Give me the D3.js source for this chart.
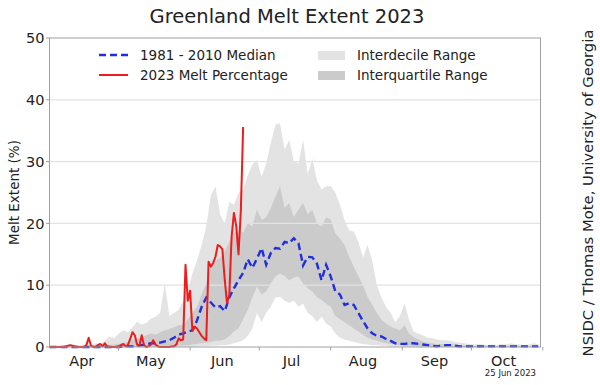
<!DOCTYPE html>
<meta charset="utf-8">
<style>
body { margin: 0; background: #fff; }
text { font-family: "DejaVu Sans", sans-serif; fill: #222; }
</style>
<svg width="600" height="385"></svg>
<script src="https://d3js.org/d3.v7.min.js"></script>
<script>

// tick labels
var months = ["Apr", "May", "Jun", "Jul", "Aug", "Sep", "Oct"];
var yTicks = [0, 10, 20, 30, 40, 50];

// 2023 daily melt percentage, starting 1 Apr 2023
var melt2023 = [
  0, 0, 0, 0, 0, 0, 0, 0.1, 0.2, 0.3,
  0.2, 0.1, 0, 0, 0, 0, 0.3, 1.5, 0.2, 0,
  0, 0.3, 0.5, 0.1, 0.6, 0.1, 0, 0, 0, 0,
  0.1, 0.3, 0.5, 0.1, 0.3, 1.3, 2.4, 1.9, 0.4, 0.2,
  1.9, 0.3, 0, 0.1, 0.4, 1.1, 0.4, 0.1, 0, 0,
  0, 0, 0, 0.1, 0.1, 0.4, 1.4, 1.1, 1.2, 13.3,
  7.5, 9.1, 2.6, 3.3, 3.0, 2.4, 1.8, 1.4, 1.1, 13.8,
  13.0, 13.6, 14.6, 16.5, 16.3, 15.8, 11.0, 7.1, 8.4, 17.8,
  21.7, 19.6, 15.0, 22.0, 35.6
];

// climatology 1981-2010, every second day from 1 Apr
var median = [
  0, 0, 0, 0, 0, 0, 0, 0, 0, 0,
  0, 0, 0, 0, 0, 0, 0.1, 0.1, 0.1, 0.2,
  0.3, 0.4, 0.6, 0.6, 0.7, 0.9, 1.1, 1.5, 2.0, 2.2,
  2.5, 2.7, 4.3, 6.5, 8.0, 7.2, 6.4, 6.6, 5.8, 8.0,
  9.5, 10.8, 12.0, 14.2, 12.8, 14.3, 16.0, 13.3, 15.2, 16.0,
  15.9, 17.0, 16.8, 17.6, 16.8, 13.2, 14.6, 14.5, 13.5, 10.8,
  13.3, 11.4, 9.0, 8.5, 6.8, 7.1, 6.8, 5.5, 4.2, 3.0,
  2.2, 1.8, 1.7, 1.3, 1.0, 0.6, 0.5, 0.5, 0.6, 0.6,
  0.5, 0.4, 0.3, 0.2, 0.1, 0.2, 0.3, 0.3, 0.2, 0.1,
  0.1, 0.1, 0.1, 0.1, 0.1, 0.1, 0.1, 0.1, 0.1, 0.1,
  0.1, 0.1, 0.1, 0.1, 0.1, 0.1, 0.1
];
var iqrLow = [
  0, 0, 0, 0, 0, 0, 0, 0, 0, 0,
  0, 0, 0, 0, 0, 0, 0, 0, 0, 0,
  0, 0, 0, 0, 0, 0.1, 0.1, 0.2, 0.2, 0.3,
  0.3, 0.4, 0.5, 0.6, 0.7, 0.8, 1.0, 1.0, 1.2, 1.8,
  2.5, 3.0, 4.5, 6.0, 8.0, 9.8, 8.5, 9.0, 10.3, 11.4,
  11.9, 11.5, 10.8, 11.2, 11.4, 10.3, 9.5, 9.0, 8.1, 7.6,
  7.0, 6.5, 5.0, 4.5, 4.0, 3.5, 3.0, 2.5, 2.0, 1.5,
  1.2, 1.0, 0.8, 0.6, 0.5, 0.4, 0.3, 0.2, 0.2, 0.2,
  0.1, 0.1, 0, 0, 0, 0, 0, 0, 0, 0,
  0, 0, 0, 0, 0, 0, 0, 0, 0, 0,
  0, 0, 0, 0, 0, 0, 0
];
var iqrHigh = [
  0, 0, 0, 0, 0, 0, 0, 0, 0, 0,
  0.1, 0.1, 0.2, 0.3, 0.4, 0.5, 0.7, 0.8, 1.2, 1.4,
  1.5, 1.9, 2.2, 2.0, 2.4, 2.7, 2.9, 3.2, 3.5, 3.6,
  4.5, 5.5, 6.5, 8.5, 10.3, 13.5, 14.0, 14.4, 15.5, 17.0,
  18.4, 18.9, 18.5, 20.0, 19.5, 22.2, 20.6, 21.0, 22.5, 24.3,
  26.0, 22.5, 23.3, 21.0, 22.2, 23.3, 21.5, 22.2, 20.0, 19.5,
  21.0, 20.6, 18.4, 17.5, 16.5, 14.6, 13.0, 11.5, 10.0, 8.1,
  6.8, 5.5, 4.4, 3.8, 3.3, 3.0, 2.7, 3.5, 2.2, 1.6,
  1.2, 0.9, 0.7, 0.6, 0.5, 0.5, 0.5, 0.4, 0.4, 0.3,
  0.3, 0.3, 0.2, 0.2, 0.2, 0.2, 0.2, 0.2, 0.2, 0.2,
  0.2, 0.2, 0.2, 0.1, 0.1, 0.1, 0.1
];
var idrLow = [
  0, 0, 0, 0, 0, 0, 0, 0, 0, 0,
  0, 0, 0, 0, 0, 0, 0, 0, 0, 0,
  0, 0, 0, 0, 0, 0, 0, 0, 0, 0,
  0, 0, 0.1, 0.1, 0.1, 0.2, 0.2, 0.3, 0.3, 0.4,
  0.6, 0.8, 1.1, 1.8, 3.0, 5.5, 4.0, 5.5, 6.5, 8.0,
  8.1, 7.5, 7.1, 7.5, 6.5, 7.0, 5.5, 5.0, 4.0, 4.9,
  3.8, 3.3, 2.2, 1.5, 1.2, 1.0, 0.8, 0.6, 0.5, 0.4,
  0.3, 0.3, 0.2, 0.2, 0.1, 0.1, 0.1, 0, 0, 0,
  0, 0, 0, 0, 0, 0, 0, 0, 0, 0,
  0, 0, 0, 0, 0, 0, 0, 0, 0, 0,
  0, 0, 0, 0, 0, 0, 0
];
var idrHigh = [
  0, 0, 0.1, 0, 0.2, 0.1, 0.3, 0.2, 0.4, 0.3,
  0.6, 0.5, 1.0, 1.7, 1.4, 2.2, 2.7, 2.4, 3.2, 4.1,
  3.6, 3.9, 4.6, 4.9, 5.5, 10.3, 5.0, 5.5, 6.0, 7.5,
  9.2, 11.9, 14.0, 16.5, 19.5, 24.5, 26.0, 21.5, 20.0, 23.5,
  23.0, 24.9, 25.5, 27.8, 29.5, 30.3, 27.5, 29.7, 33.0, 36.0,
  36.2, 32.0, 33.5, 30.0, 29.7, 33.5, 28.0, 30.5, 27.0, 25.5,
  26.0, 26.0, 25.0, 23.0, 20.5, 18.9, 18.7, 17.0, 14.5, 16.5,
  14.0, 10.0, 8.0, 6.5, 5.5, 4.0, 5.0, 7.0, 4.4, 2.5,
  2.2, 1.9, 1.5, 1.4, 1.2, 1.1, 1.1, 1.0, 0.8, 0.7,
  0.6, 0.5, 0.4, 0.5, 0.4, 0.3, 0.4, 0.3, 0.5, 0.4,
  0.6, 0.5, 0.4, 0.3, 0.4, 0.6, 0.5
];

var svg = d3.select("svg");
var margin = {left: 49.5, right: 540.5, top: 38, bottom: 347};

var start = new Date(2023, 3, 1);
var end = new Date(2023, 9, 31);

var x = d3.scaleTime()
    .domain([start, end])
    .range([margin.left, margin.right]);
var y = d3.scaleLinear()
    .domain([0, 50])
    .range([margin.bottom, margin.top]);

var climDates = median.map(function(d, i) { return d3.timeDay.offset(start, 2 * i); });
var meltDates = melt2023.map(function(d, i) { return d3.timeDay.offset(start, i); });

var clim = climDates.map(function(d, i) {
  return {date: d, med: median[i], q1: iqrLow[i], q3: iqrHigh[i], d1: idrLow[i], d9: idrHigh[i]};
});
var melt = meltDates.map(function(d, i) { return {date: d, v: melt2023[i]}; });

// bands
svg.append("path")
    .datum(clim)
    .attr("fill", "#e3e3e3")
    .attr("d", d3.area()
      .x(function(d) { return x(d.date); })
      .y0(function(d) { return y(d.d1); })
      .y1(function(d) { return y(d.d9); }));

svg.append("path")
    .datum(clim)
    .attr("fill", "#cbcbcb")
    .attr("d", d3.area()
      .x(function(d) { return x(d.date); })
      .y0(function(d) { return y(d.q1); })
      .y1(function(d) { return y(d.q3); }));

// grid
svg.append("g")
  .selectAll("line")
  .data(yTicks.slice(1, -1))
  .enter().append("line")
    .attr("x1", margin.left).attr("x2", margin.right)
    .attr("y1", function(d) { return y(d); })
    .attr("y2", function(d) { return y(d); })
    .attr("stroke", "#e2e2e2")
    .attr("stroke-width", 1.3);

// median
svg.append("path")
    .datum(clim)
    .attr("fill", "none")
    .attr("stroke", "#1f2fe0")
    .attr("stroke-width", 2.4)
    .attr("stroke-dasharray", "7,4")
    .attr("d", d3.line()
      .x(function(d) { return x(d.date); })
      .y(function(d) { return y(d.med); }));

// 2023
svg.append("path")
    .datum(melt)
    .attr("fill", "none")
    .attr("stroke", "#ee1c1c")
    .attr("stroke-width", 2)
    .attr("stroke-linejoin", "round")
    .attr("d", d3.line()
      .x(function(d) { return x(d.date); })
      .y(function(d) { return y(d.v); }));

// frame
svg.append("rect")
    .attr("x", margin.left).attr("y", margin.top)
    .attr("width", margin.right - margin.left)
    .attr("height", margin.bottom - margin.top)
    .attr("fill", "none")
    .attr("stroke", "#a0a0a0")
    .attr("stroke-width", 1);

// y axis
var yAxis = svg.append("g");
yAxis.selectAll("line")
  .data(yTicks)
  .enter().append("line")
    .attr("x1", margin.left - 3.5).attr("x2", margin.left)
    .attr("y1", function(d) { return y(d); })
    .attr("y2", function(d) { return y(d); })
    .attr("stroke", "#a0a0a0");
yAxis.selectAll("text")
  .data(yTicks)
  .enter().append("text")
    .attr("x", margin.left - 5)
    .attr("y", function(d) { return y(d); })
    .attr("dy", "0.36em")
    .attr("text-anchor", "end")
    .attr("font-size", 14.5)
    .text(function(d) { return d; });

// x axis: ticks at month starts, labels mid-month
var monthStarts = d3.timeMonth.range(start, d3.timeMonth.offset(end, 1));
var xAxis = svg.append("g");
xAxis.selectAll("line")
  .data(monthStarts.slice(1))
  .enter().append("line")
    .attr("x1", function(d) { return x(d); })
    .attr("x2", function(d) { return x(d); })
    .attr("y1", margin.bottom).attr("y2", margin.bottom + 3.5)
    .attr("stroke", "#a0a0a0");
xAxis.selectAll("text")
  .data(months)
  .enter().append("text")
    .attr("x", function(d, i) { return x(d3.timeDay.offset(monthStarts[i], 14)); })
    .attr("y", margin.bottom + 19)
    .attr("text-anchor", "middle")
    .attr("font-size", 14.5)
    .text(function(d) { return d; });

svg.append("text")
    .attr("transform", "translate(19," + ((margin.top + margin.bottom) / 2) + ") rotate(-90)")
    .attr("text-anchor", "middle")
    .attr("font-size", 13.5)
    .text("Melt Extent (%)");

svg.append("text")
    .attr("x", 287).attr("y", 23)
    .attr("text-anchor", "middle")
    .attr("font-size", 19.5)
    .text("Greenland Melt Extent 2023");

svg.append("text")
    .attr("transform", "translate(593,193) rotate(-90)")
    .attr("text-anchor", "middle")
    .attr("font-size", 14.8)
    .text("NSIDC / Thomas Mote, University of Georgia");

svg.append("text")
    .attr("x", 536).attr("y", 376)
    .attr("text-anchor", "end")
    .attr("font-size", 8.5)
    .text("25 Jun 2023");

// legend
var lg = svg.append("g").attr("font-size", 13.5);
lg.append("line")
    .attr("x1", 99).attr("x2", 128).attr("y1", 55).attr("y2", 55)
    .attr("stroke", "#1f2fe0").attr("stroke-width", 2.4)
    .attr("stroke-dasharray", "7,4");
lg.append("line")
    .attr("x1", 99).attr("x2", 128).attr("y1", 75).attr("y2", 75)
    .attr("stroke", "#ee1c1c").attr("stroke-width", 2);
lg.append("text").attr("x", 140).attr("y", 60).text("1981 - 2010 Median");
lg.append("text").attr("x", 140).attr("y", 80).text("2023 Melt Percentage");
lg.append("rect").attr("x", 318).attr("y", 51).attr("width", 27).attr("height", 9).attr("fill", "#e3e3e3");
lg.append("rect").attr("x", 318).attr("y", 71).attr("width", 27).attr("height", 9).attr("fill", "#cbcbcb");
lg.append("text").attr("x", 357).attr("y", 60).text("Interdecile Range");
lg.append("text").attr("x", 357).attr("y", 80).text("Interquartile Range");

</script>
